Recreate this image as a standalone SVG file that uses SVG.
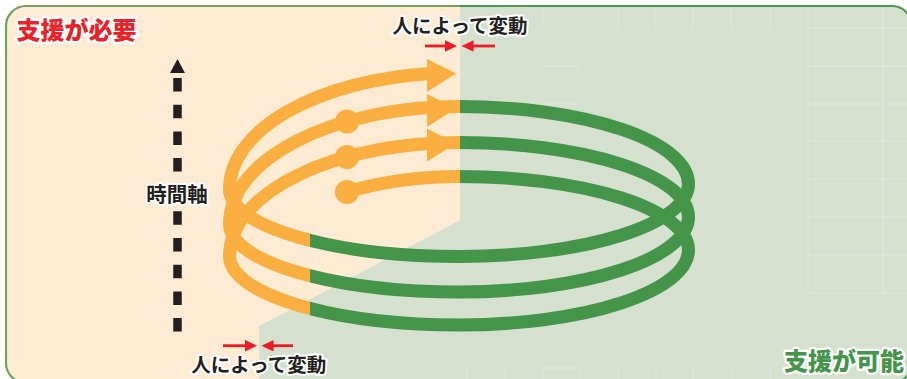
<svg xmlns="http://www.w3.org/2000/svg" width="907" height="379" viewBox="0 0 907 379">
<defs>
<style>
.lbl{font-family:"Noto Sans CJK JP","Noto Sans",sans-serif;font-weight:700;paint-order:stroke;stroke:#ffffff;stroke-linejoin:round}
.ttl{font-weight:900}
.helix{fill:none;stroke-width:13;stroke-linecap:butt}
.orange{stroke:#FAAF40}
.green{stroke:#44944A}
.grid{stroke:#E1E8DD;stroke-width:1;fill:none}
.red{stroke:#ED1C24;stroke-width:2.8;fill:none}
</style>
<clipPath id="frameClip"><rect x="6" y="6" width="906" height="377" rx="20"/></clipPath>
<clipPath id="greenBgClip"><polygon points="460,0 920,0 920,390 259,390 259,326 460,220"/></clipPath>
<clipPath id="peachBgClip"><polygon points="0,0 460,0 460,220 259,326 259,390 0,390"/></clipPath>
<clipPath id="greenLineClip"><polygon points="460,0 907,0 907,379 310,379 310,228 460,200"/></clipPath>
<clipPath id="orangeLineClip"><polygon points="0,0 460,0 460,200 310,228 310,379 0,379"/></clipPath>
<path id="helixPath" d="M347,192 A229.5,121.9 0 0 1 459,176.5 A229.5,73.5 0 0 1 688.5,250 A229.5,75 0 0 1 459,325 A229.5,69 0 0 1 229.5,256 A229.5,113.5 0 0 1 459,142.5 A229.5,74.5 0 0 1 688.5,217 A229.5,75 0 0 1 459,292 A229.5,68 0 0 1 229.5,224 A229.5,117.5 0 0 1 459,106.5 A229.5,77.5 0 0 1 688.5,184 A229.5,72.5 0 0 1 459,256.5 A229.5,67.5 0 0 1 229.5,189 A229.5,116.5 0 0 1 430,73.4"/>
<marker id="redHead" markerUnits="userSpaceOnUse" markerWidth="12" markerHeight="12" refX="2" refY="5.75" orient="auto"><path d="M0,0 L12,5.75 L0,11.5 Z" fill="#ED1C24"/></marker>
</defs>

<g id="background">
  <rect x="0" y="0" width="907" height="379" fill="#ffffff"/>
  <g clip-path="url(#frameClip)">
    <rect x="0" y="0" width="920" height="390" fill="#FEEBD3" clip-path="url(#peachBgClip)"/>
    <g clip-path="url(#greenBgClip)">
      <rect x="0" y="0" width="920" height="390" fill="#D5E0CF"/>
      <path class="grid" d="M618,6V28 M655,6V28 M693,6V28 M731,6V28 M770,6V28 M808,6V293 M883,6V293 M808,28H907 M808,66H907 M808,104H907 M808,141H907 M808,179H907 M808,217H907 M808,255H907 M808,293H907 M467,368V379 M505,368V379 M543,368V379 M580,368V379 M618,368V379 M656,368V379 M693,368V379 M732,368V379 M770,368V379 M543,368H580 M543,8V27 M543,66H580 M543,104H580"/>
    </g>
  </g>
  <rect x="6" y="6" width="906" height="377" rx="20" fill="none" stroke="#72A55C" stroke-width="2.2" clip-path="url(#peachBgClip)"/>
  <rect x="6" y="6" width="906" height="377" rx="20" fill="none" stroke="#4A974C" stroke-width="2.2" clip-path="url(#greenBgClip)"/>
</g>

<g id="helix">
  <use href="#helixPath" class="helix orange" clip-path="url(#orangeLineClip)"/>
  <use href="#helixPath" class="helix green" clip-path="url(#greenLineClip)"/>
  <g fill="#FAAF40">
    <polygon points="427,59 456,73.5 427,92"/>
    <polygon points="427,94 456,108.5 427,127"/>
    <polygon points="427,128.5 456,143.5 427,161.5"/>
    <circle cx="347" cy="121.5" r="12"/>
    <circle cx="347" cy="157" r="12"/>
    <circle cx="347" cy="192" r="12"/>
  </g>
</g>

<g id="time-axis">
  <polygon points="177.5,59 185,73 170,73" fill="#231F20"/>
  <line x1="177.5" y1="78" x2="177.5" y2="172" stroke="#231F20" stroke-width="8.5" stroke-dasharray="13.5 13.2"/>
  <line x1="177.5" y1="211.3" x2="177.5" y2="332" stroke="#231F20" stroke-width="8.5" stroke-dasharray="13.5 13.2"/>
  <text class="lbl" x="177" y="201.8" font-size="20.5" fill="#231F20" stroke-width="4" text-anchor="middle">時間軸</text>
</g>

<g id="connectors">
  <line class="red" x1="425" y1="46" x2="447" y2="46" marker-end="url(#redHead)"/>
  <line class="red" x1="495" y1="46" x2="471.5" y2="46" marker-end="url(#redHead)"/>
  <line class="red" x1="223" y1="345.7" x2="247" y2="345.7" marker-end="url(#redHead)"/>
  <line class="red" x1="293" y1="345.7" x2="271.5" y2="345.7" marker-end="url(#redHead)"/>
</g>

<g id="labels">
  <text class="lbl ttl" x="16.5" y="38.8" font-size="24" fill="#EC2027" stroke-width="4.5">支援が必要</text>
  <text class="lbl ttl" x="784" y="369.5" font-size="24" fill="#44944A" stroke-width="4.5">支援が可能</text>
  <text class="lbl" x="460" y="32.6" font-size="19.5" fill="#231F20" stroke-width="4" text-anchor="middle">人によって変動</text>
  <text class="lbl" x="258.8" y="372.4" font-size="19.5" fill="#231F20" stroke-width="4" text-anchor="middle">人によって変動</text>
</g>
</svg>
